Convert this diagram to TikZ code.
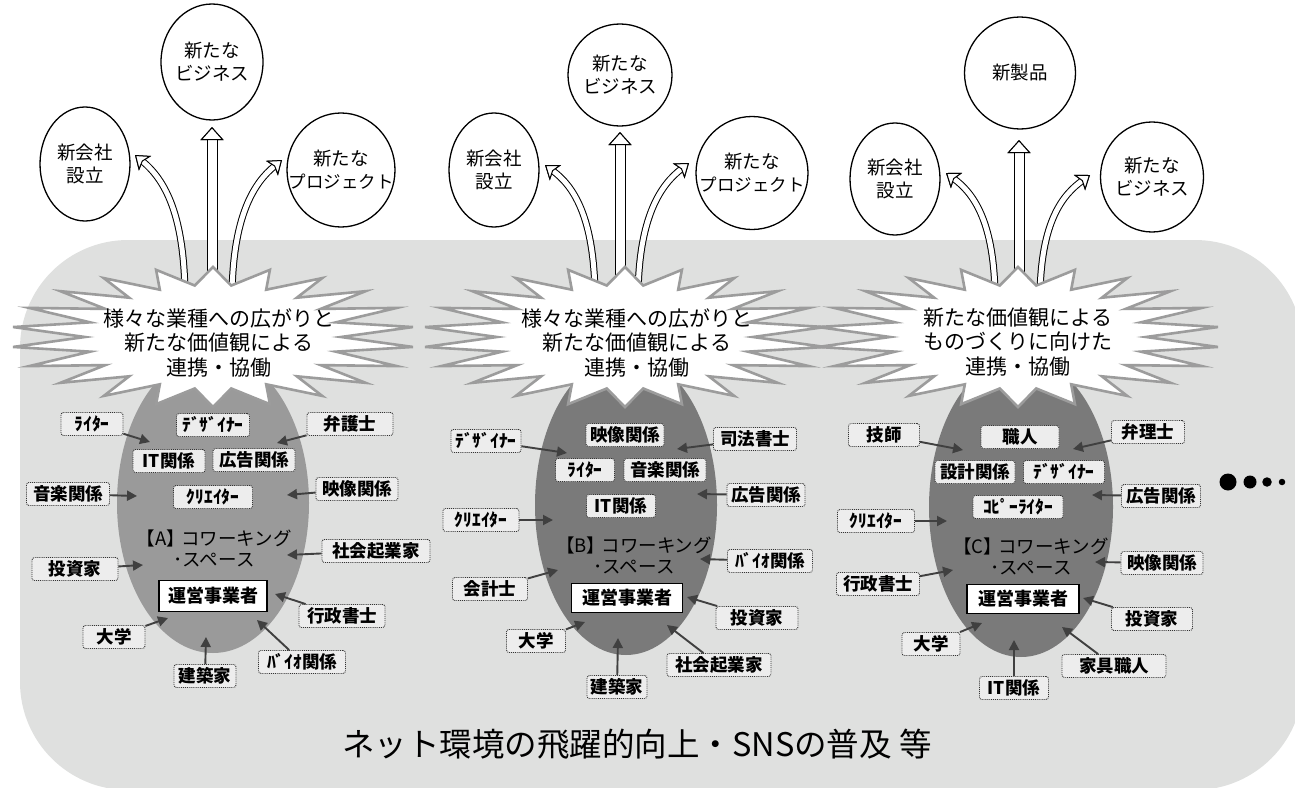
\documentclass[tikz,border=0pt]{standalone}
\usepackage{fontspec}
\setmainfont{Noto Sans CJK JP}
\usetikzlibrary{arrows.meta,shapes.geometric}
\definecolor{bgg}{HTML}{DFE0DF}
\definecolor{ovalA}{HTML}{9A9A9A}
\definecolor{ovalB}{HTML}{7A7A7A}
\definecolor{burstc}{HTML}{9C9C9C}
\definecolor{labfill}{HTML}{EDEDED}
\definecolor{arrc}{HTML}{404040}
\newcommand\lab[5]{\node[lab, minimum width=#4pt] (#1) at (#2,#3) {#5};}
\newcommand\labar[6]{\lab{#1}{#2}{#3}{#4}{#5}\coordinate (#1h) at #6; \draw[lar] (#1) -- (#1h);}
\newcommand\topc[6]{\node[circ, minimum width=#4pt, minimum height=#5pt] (#1) at (#2,#3) {};
  \node[ctext] (#1t) at (#1) {#6};}
\newcommand\smallproj{{\fontsize{17.5}{23}\selectfont プロジェクト}}
\begin{document}
\begin{tikzpicture}[x=1pt,y=-1pt,
  lab/.style={draw=black!80, densely dotted, line width=0.9pt, fill=labfill, rounded corners=2.5pt,
    inner xsep=2pt, inner ysep=1pt, minimum height=23pt, font=\fontsize{17.5}{19}\selectfont\bfseries},
  lar/.style={draw=arrc, line width=1.9pt, -{Triangle[length=10pt,width=10pt]}},
  opbox/.style={draw=black, line width=1.8pt, fill=white, minimum width=108pt, minimum height=31pt,
    inner sep=1pt, font=\fontsize{18}{20}\selectfont\bfseries},
  circ/.style={ellipse, draw=black, line width=1.3pt, fill=white, inner sep=0pt},
  ctext/.style={align=center, inner sep=0pt, font=\fontsize{18.5}{23}\selectfont},
  btext/.style={align=center, font=\fontsize{21}{24.5}\selectfont},
  cw/.style={align=center, font=\fontsize{18.5}{21}\selectfont},
  oval/.style={ellipse, inner sep=0pt, minimum width=192pt, minimum height=300pt},
  holC/.style={draw=white, line width=9pt, preaction={draw=black, line width=11pt},
    -{Triangle[length=13pt, width=23pt, fill=white, color=black, line width=1pt]}},
  holS/.style={draw=white, line width=5pt, preaction={draw=black, line width=7pt},
    -{Stealth[length=13pt, width=19pt, inset=3pt, fill=white, color=black, line width=1pt]}},
  dot/.style={circle, fill=black, inner sep=0pt}
]
\useasboundingbox (0,0) rectangle (1295,787);
% background
\fill[bgg, rounded corners=108pt] (20,240) rectangle (1303,790);

% top circles
\topc{ncA}{85}{164}{90}{114}{新会社\\設立}
\topc{nbA}{212}{62}{102}{116}{新たな\\ビジネス}
\topc{npA}{341}{170}{108}{114}{新たな\\\smallproj}
\topc{ncB}{494}{170}{90}{114}{新会社\\設立}
\topc{nbB}{620}{75}{104}{102}{新たな\\ビジネス}
\topc{npB}{752}{173}{112}{113}{新たな\\\smallproj}
\topc{ncC}{895}{179}{90}{112}{新会社\\設立}
\topc{nsC}{1020}{73}{111}{112}{新製品}
\topc{nbC}{1152}{177}{103}{110}{新たな\\ビジネス}

% hollow arrows
\coordinate (sAc) at (212,300); \coordinate (eAc) at (212,127);
\coordinate (sAl) at (185,300); \coordinate (eAl) at (135,155);
\coordinate (sAr) at (232,300); \coordinate (eAr) at (282,160);
\coordinate (sBc) at (620,300); \coordinate (eBc) at (620,132);
\coordinate (sBl) at (595,300); \coordinate (eBl) at (545,165);
\coordinate (sBr) at (638,300); \coordinate (eBr) at (689,163);
\coordinate (sCc) at (1019,300); \coordinate (eCc) at (1019,140);
\coordinate (sCl) at (995,300); \coordinate (eCl) at (946,173);
\coordinate (sCr) at (1040,300); \coordinate (eCr) at (1090,175);
\draw[holC] (sAc) -- (eAc);
\draw[holS] (sAl) .. controls (185,215) and (165,180) .. (eAl);
\draw[holS] (sAr) .. controls (232,215) and (255,182) .. (eAr);
\draw[holC] (sBc) -- (eBc);
\draw[holS] (sBl) .. controls (595,215) and (572,185) .. (eBl);
\draw[holS] (sBr) .. controls (638,215) and (662,184) .. (eBr);
\draw[holC] (sCc) -- (eCc);
\draw[holS] (sCl) .. controls (995,220) and (972,192) .. (eCl);
\draw[holS] (sCr) .. controls (1040,220) and (1064,194) .. (eCr);

% ovals
\node[oval, fill=ovalA] (ovA) at (213,503) {};
\node[oval, fill=ovalB, minimum width=182pt] (ovB) at (626,505) {};
\node[oval, fill=ovalB, minimum width=184pt] (ovC) at (1021,507) {};

% bursts
\foreach \cx/\cy in {213/337, 625/337, 1018/337} {
  \fill[white] plot[variable=\k, samples at={0,...,43}]
    ({\cx+(128+74*(1-mod(\k,2)))*cos(90+\k*360/44)}, {\cy-(52+18*(1-mod(\k,2)))*sin(90+\k*360/44)}) -- cycle;
}
\foreach \cx/\cy in {213/337, 625/337, 1018/337} {
  \draw[burstc, line width=2.6pt, line join=miter] plot[variable=\k, samples at={0,...,43}]
    ({\cx+(128+74*(1-mod(\k,2)))*cos(90+\k*360/44)}, {\cy-(52+18*(1-mod(\k,2)))*sin(90+\k*360/44)}) -- cycle;
}
\node[btext] (tA) at (219,343) {様々な業種への広がりと\\新たな価値観による\\連携・協働};
\node[btext] (tB) at (637,343) {様々な業種への広がりと\\新たな価値観による\\連携・協働};
\node[btext] (tC) at (1018,342) {新たな価値観による\\ものづくりに向けた\\連携・協働};

% panel A
\node[cw] (cwA) at (214,548) {【A】\kern-0.2em コワーキング\\･スペース};
\node[opbox] (opA) at (213,596) {運営事業者};
\labar{aWriter}{92}{424}{62}{ﾗｲﾀｰ}{(150,442)}
\lab{aDesigner}{213}{425}{73}{ﾃﾞｻﾞｲﾅｰ}
\labar{aLawyer}{350}{424}{86}{弁護士}{(277,443)}
\lab{aIT}{169}{461}{72}{IT関係}
\lab{aAd}{254}{460}{82}{広告関係}
\labar{aMusic}{68}{494}{83}{音楽関係}{(137,496)}
\lab{aCreator}{213}{497}{79}{ｸﾘｴｲﾀｰ}
\labar{aVideo}{357}{489}{82}{映像関係}{(287,495)}
\labar{aSoc}{376}{551}{108}{社会起業家}{(287,555)}
\labar{aInv}{75}{569}{86}{投資家}{(143,565)}
\labar{aAdmin}{342}{616}{86}{行政書士}{(275,594)}
\labar{aUniv}{114}{637}{62}{大学}{(168,618)}
\labar{aBio}{302}{662}{87}{ﾊﾞｲｵ関係}{(257,620)}
\labar{aArch}{205}{676}{62}{建築家}{(206,637)}

% panel B
\node[cw] (cwB) at (634,555) {【B】\kern-0.2em コワーキング\\･スペース};
\node[opbox, minimum width=111pt, minimum height=29pt] (opB) at (627,598) {運営事業者};
\labar{bDesigner}{486}{441}{70}{ﾃﾞｻﾞｲﾅｰ}{(567,453)}
\lab{bVideo}{625}{435}{78}{映像関係}
\labar{bJud}{755}{439}{83}{司法書士}{(677,449)}
\lab{bWriter}{585}{470}{59}{ﾗｲﾀｰ}
\lab{bMusic}{665}{470}{82}{音楽関係}
\labar{bAd}{766}{495}{78}{広告関係}{(697,494)}
\lab{bIT}{621}{506}{69}{IT関係}
\labar{bCreator}{481}{520}{76}{ｸﾘｴｲﾀｰ}{(553,520)}
\labar{bBio}{770}{561}{85}{ﾊﾞｲｵ関係}{(700,559)}
\labar{bAcc}{490}{589}{75}{会計士}{(558,570)}
\labar{bInv}{757}{618}{82}{投資家}{(687,597)}
\labar{bUniv}{536}{641}{59}{大学}{(585,622)}
\labar{bSoc}{719}{665}{104}{社会起業家}{(667,625)}
\labar{bArch}{617}{687}{60}{建築家}{(618,638)}

% panel C
\node[cw] (cwC) at (1031,556) {【C】\kern-0.2em コワーキング\\･スペース};
\node[opbox, minimum width=112pt, minimum height=29pt] (opC) at (1023,599) {運営事業者};
\labar{cEng}{884}{435}{71}{技師}{(963,450)}
\lab{cCraft}{1020}{437}{78}{職人}
\labar{cPat}{1148}{432}{73}{弁理士}{(1073,449)}
\lab{cDesign}{975}{472}{80}{設計関係}
\lab{cDesigner}{1064}{472}{81}{ﾃﾞｻﾞｲﾅｰ}
\labar{cAd}{1161}{496}{79}{広告関係}{(1092,495)}
\lab{cCopy}{1018}{507}{90}{ｺﾋﾟｰﾗｲﾀｰ}
\labar{cCreator}{876}{521}{77}{ｸﾘｴｲﾀｰ}{(947,521)}
\labar{cVideo}{1162}{563}{82}{映像関係}{(1095,562)}
\labar{cAdmin}{878}{584}{83}{行政書士}{(953,570)}
\labar{cInv}{1152}{619}{81}{投資家}{(1083,598)}
\labar{cUniv}{931}{644}{58}{大学}{(982,623)}
\labar{cFurn}{1114}{666}{104}{家具職人}{(1062,627)}
\labar{cIT}{1014}{688}{69}{IT関係}{(1014,640)}

% dots
\node[dot, minimum size=17pt] (d1) at (1228,482) {};
\node[dot, minimum size=13pt] (d2) at (1250,482) {};
\node[dot, minimum size=9.5pt] (d3) at (1267,482) {};
\node[dot, minimum size=6.5pt] (d4) at (1282,482) {};

% bottom text
\node[font=\fontsize{32.5}{34}\selectfont] (net) at (637,744) {ネット環境の飛躍的向上・SNSの普及 等};
\end{tikzpicture}
\end{document}
